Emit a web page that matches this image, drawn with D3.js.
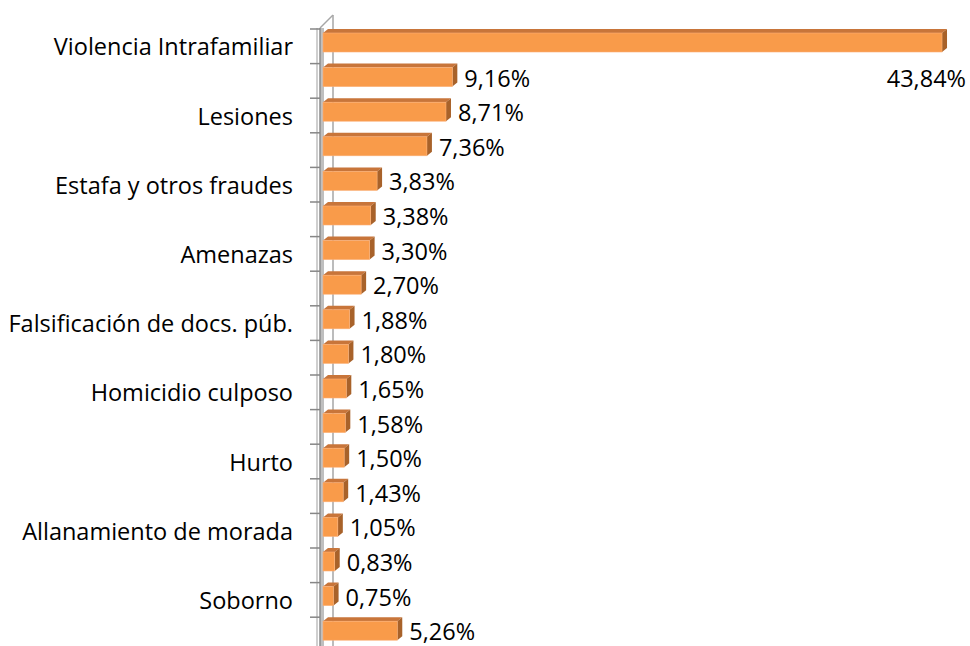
<!DOCTYPE html>
<html>
<head>
<meta charset="utf-8">
<script src="https://cdn.jsdelivr.net/npm/d3@7"></script>
<style>
  body { margin: 0; background: #fff; }
  #chart { width: 970px; height: 646px; }
  text { font-family: "Open Sans", sans-serif; fill: #000; }
</style>
</head>
<body>
<div id="chart"></div>
<script>
// Category names (Excel only printed every other one; the hidden ones are unknown)
const categories = [
  "Violencia Intrafamiliar", "", "Lesiones", "", "Estafa y otros fraudes", "",
  "Amenazas", "", "Falsificación de docs. púb.", "", "Homicidio culposo", "",
  "Hurto", "", "Allanamiento de morada", "", "Soborno", ""
];
const values = [
  43.84, 9.16, 8.71, 7.36, 3.83, 3.38, 3.30, 2.70, 1.88,
  1.80, 1.65, 1.58, 1.50, 1.43, 1.05, 0.83, 0.75, 5.26
];
const fmt = v => v.toFixed(2).replace(".", ",") + "%";

(function () {
  const W = 970, H = 646;
  const fontSize = 23.5;
  const svg = d3.select("#chart").append("svg")
    .attr("width", W).attr("height", H);

  const top = 29, step = 34.6;
  const y = d3.scaleBand()
    .domain(d3.range(values.length))
    .range([top, top + step * values.length])
    .padding(0);

  const x = d3.scaleLinear().domain([0, 50]).range([323, 1029]);

  const dx = 5, dy = 4;           // 3D depth offset
  const barH = 19;
  const wallX = 320;
  const axisTop = y(0) - 1;

  // back wall / axis
  const wall = svg.append("g");
  wall.append("rect")
    .attr("x", wallX).attr("y", axisTop)
    .attr("width", 4).attr("height", H - axisTop)
    .attr("fill", "#bfbfbf");
  wall.append("line")
    .attr("x1", wallX + dx + 8).attr("x2", wallX + dx + 8)
    .attr("y1", axisTop - 13).attr("y2", H)
    .attr("stroke", "#a6a6a6").attr("stroke-width", 1.5);
  wall.append("line")
    .attr("x1", wallX).attr("x2", wallX + 13)
    .attr("y1", axisTop).attr("y2", axisTop - 13)
    .attr("stroke", "#a6a6a6").attr("stroke-width", 1.5);
  wall.append("line")
    .attr("x1", wallX - 3).attr("x2", wallX - 3)
    .attr("y1", axisTop).attr("y2", H)
    .attr("stroke", "#bfbfbf").attr("stroke-width", 1.5);
  wall.append("line")
    .attr("x1", wallX).attr("x2", wallX)
    .attr("y1", axisTop).attr("y2", H)
    .attr("stroke", "#8c8c8c").attr("stroke-width", 1.5);

  // tick marks at band boundaries
  wall.selectAll(".tick")
    .data(d3.range(values.length))
    .join("line")
    .attr("x1", wallX - 10).attr("x2", wallX)
    .attr("y1", d => y(d)).attr("y2", d => y(d))
    .attr("stroke", "#868686").attr("stroke-width", 1.5);

  // bars
  const bars = svg.selectAll(".bar")
    .data(values)
    .join("g")
    .attr("class", "bar");

  bars.append("path") // top face
    .attr("d", (d, i) => {
      const y0 = y(i) + dy, x0 = x(0), x1 = x(d);
      return `M${x0},${y0}L${x0 + dx},${y0 - dy}L${x1 + dx},${y0 - dy}L${x1},${y0}Z`;
    })
    .attr("fill", "#c8753a");
  bars.append("path") // side face
    .attr("d", (d, i) => {
      const y0 = y(i) + dy, x1 = x(d);
      return `M${x1},${y0}L${x1 + dx},${y0 - dy}L${x1 + dx},${y0 - dy + barH}L${x1},${y0 + barH}Z`;
    })
    .attr("fill", "#a8622a");
  bars.append("rect") // front face
    .attr("x", x(0))
    .attr("y", (d, i) => y(i) + dy)
    .attr("width", d => x(d) - x(0))
    .attr("height", barH)
    .attr("fill", "#f99b4a")
    .attr("stroke", "#fbb077").attr("stroke-width", 0.6);

  // data labels
  svg.selectAll(".val")
    .data(values)
    .join("text")
    .attr("class", "val")
    .attr("font-size", fontSize)
    .attr("dominant-baseline", "central")
    .text(d => fmt(d))
    .each(function (d, i) {
      const t = d3.select(this);
      const w = this.getComputedTextLength();
      let tx = x(d) + dx + 7;
      let ty = y(i) + dy + barH / 2 + 0.5;
      if (tx + w > W - 4) { tx = W - 4 - w; ty += y.bandwidth(); }
      t.attr("x", tx).attr("y", ty);
    });

  // category labels
  svg.selectAll(".cat")
    .data(categories)
    .join("text")
    .attr("class", "cat")
    .attr("font-size", fontSize)
    .attr("text-anchor", "end")
    .attr("dominant-baseline", "central")
    .attr("x", 293)
    .attr("y", (d, i) => y(i) + y.bandwidth() / 2)
    .text(d => d);
})();
</script>
</body>
</html>
